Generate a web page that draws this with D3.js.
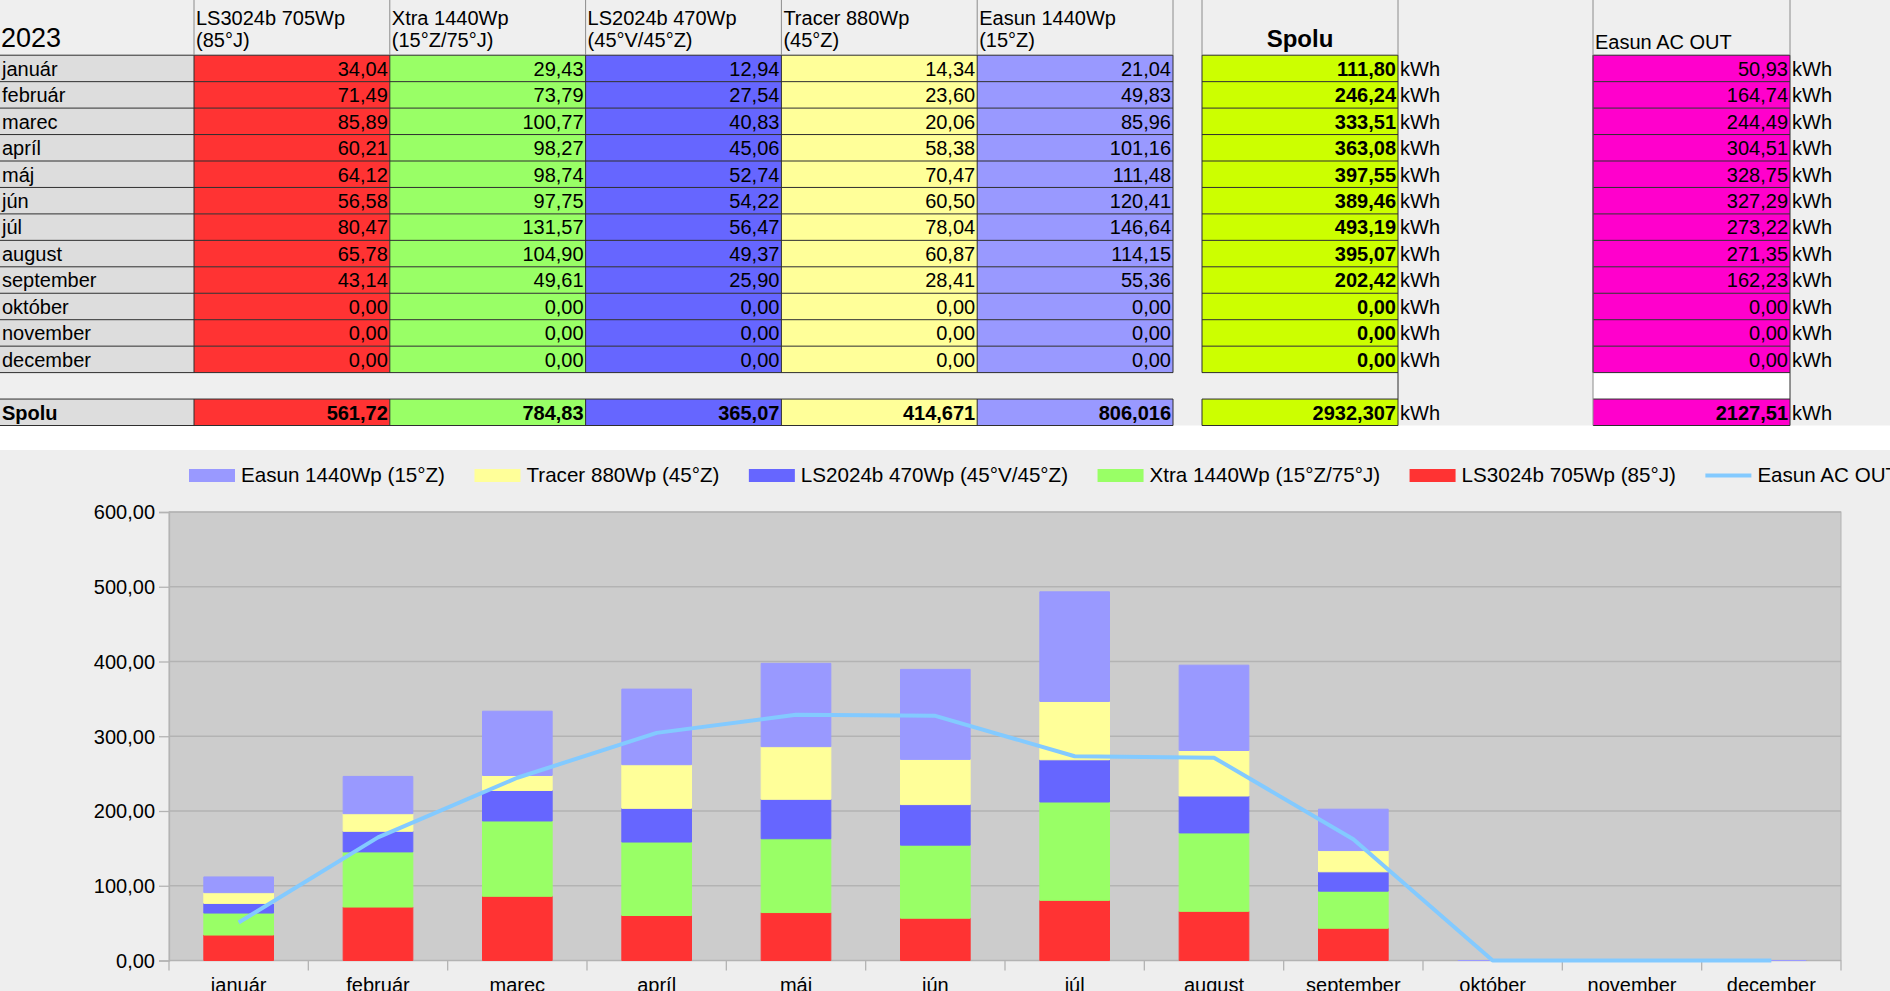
<!DOCTYPE html>
<html>
<head>
<meta charset="utf-8">
<script src="https://cdn.jsdelivr.net/npm/d3@7"></script>
<style>
    html, body { margin: 0; padding: 0; background: #efefef; overflow: hidden; }
    svg { display: block; font-family: "Liberation Sans", Arial, sans-serif; }
</style>
</head>
<body>
<svg id="sheet" width="1890" height="991"></svg>
<script>
// ---- data ----
var year = '2023';
var months = [ 'január', 'február', 'marec', 'apríl', 'máj', 'jún', 'júl', 'august', 'september', 'október', 'november', 'december' ];
var seriesNames = [ 'LS3024b 705Wp', 'Xtra 1440Wp', 'LS2024b 470Wp', 'Tracer 880Wp', 'Easun 1440Wp' ];
var seriesAngles = [ '(85°J)', '(15°Z/75°J)', '(45°V/45°Z)', '(45°Z)', '(15°Z)' ];
var ls3024b = [ 34.04, 71.49, 85.89, 60.21, 64.12, 56.58, 80.47, 65.78, 43.14, 0, 0, 0 ];
var xtra = [ 29.43, 73.79, 100.77, 98.27, 98.74, 97.75, 131.57, 104.90, 49.61, 0, 0, 0 ];
var ls2024b = [ 12.94, 27.54, 40.83, 45.06, 52.74, 54.22, 56.47, 49.37, 25.90, 0, 0, 0 ];
var tracer = [ 14.34, 23.60, 20.06, 58.38, 70.47, 60.50, 78.04, 60.87, 28.41, 0, 0, 0 ];
var easun = [ 21.04, 49.83, 85.96, 101.16, 111.48, 120.41, 146.64, 114.15, 55.36, 0, 0, 0 ];
var spolu = [ 111.80, 246.24, 333.51, 363.08, 397.55, 389.46, 493.19, 395.07, 202.42, 0, 0, 0 ];
var acOut = [ 50.93, 164.74, 244.49, 304.51, 328.75, 327.29, 273.22, 271.35, 162.23, 0, 0, 0 ];
var seriesTotals = [ '561,72', '784,83', '365,07', '414,671', '806,016' ];
var spoluTotal = '2932,307';
var acOutTotal = '2127,51';
var sumLabel = 'Spolu';
var unit = 'kWh';
var acOutName = 'Easun AC OUT';
var yTicks = [ 0, 100, 200, 300, 400, 500, 600 ];

var SolarSheet = SolarSheet || {};

SolarSheet.colors = [ '#ff3333', '#99ff66', '#6666ff', '#ffff99', '#9999ff' ];
SolarSheet.spoluColor = '#ccff00';
SolarSheet.acOutColor = '#ff00cc';
SolarSheet.lineColor = '#83caff';
SolarSheet.fmt = d3.formatLocale( { decimal: ',', thousands: '', grouping: [ 3 ], currency: [ '', '' ] } ).format( '.2f' );

SolarSheet.table = function ( svg ) {
    var _rowTop = 55.2,
        _rowH = 26.45,
        _border = '#2e2e2e',
        _soft = '#8c8c8c',
        _values = [ ls3024b, xtra, ls2024b, tracer, easun ],
        _rowY = d3.scaleBand().domain( months ).range( [ _rowTop, _rowTop + _rowH * months.length ] ),
        _colX = d3.scaleBand().domain( seriesNames ).range( [ 194, 1173 ] ),
        _sumTop = _rowY.range()[ 1 ] + _rowH,
        _sumBottom = _sumTop + _rowH,
        _spoluX = [ 1202, 1398 ],
        _acX = [ 1593, 1790 ],
        _g = svg.append( 'g' ).attr( 'class', 'table' );

    var hline = function ( y, x0, x1, col ) {
        _g.append( 'line' ).attr( 'x1', x0 ).attr( 'x2', x1 ).attr( 'y1', y ).attr( 'y2', y )
            .attr( 'stroke', col || _border ).attr( 'stroke-width', 1 );
    };
    var vline = function ( x, y0, y1, col ) {
        _g.append( 'line' ).attr( 'x1', x ).attr( 'x2', x ).attr( 'y1', y0 ).attr( 'y2', y1 )
            .attr( 'stroke', col || _border ).attr( 'stroke-width', 1 );
    };
    var text = function ( str, x, y, anchor, opts ) {
        opts = opts || {};
        return _g.append( 'text' ).attr( 'x', x ).attr( 'y', y )
            .attr( 'text-anchor', anchor || 'start' )
            .attr( 'font-size', opts.size || 20 )
            .attr( 'font-weight', opts.bold ? 'bold' : 'normal' )
            .attr( 'fill', '#000' )
            .text( str );
    };

    // blank AC OUT cell in the gap row is white
    _g.append( 'rect' ).attr( 'x', _acX[ 0 ] ).attr( 'y', _rowY.range()[ 1 ] )
        .attr( 'width', _acX[ 1 ] - _acX[ 0 ] ).attr( 'height', _rowH ).attr( 'fill', '#fff' );

    // label column
    _g.selectAll( 'rect.lab' ).data( months.concat( [ sumLabel ] ) ).enter().append( 'rect' )
        .attr( 'class', 'lab' )
        .attr( 'x', 0 ).attr( 'width', 194 )
        .attr( 'y', function ( d, i ) { return i < months.length ? _rowY( d ) : _sumTop; } )
        .attr( 'height', _rowH )
        .attr( 'fill', '#dddddd' );

    // coloured series cells
    seriesNames.forEach( function ( name, s ) {
        _g.selectAll( null ).data( _values[ s ].concat( [ null ] ) ).enter().append( 'rect' )
            .attr( 'x', _colX( name ) ).attr( 'width', _colX.bandwidth() )
            .attr( 'y', function ( d, i ) { return i < months.length ? _rowY( months[ i ] ) : _sumTop; } )
            .attr( 'height', _rowH )
            .attr( 'fill', SolarSheet.colors[ s ] );
    } );
    [ [ _spoluX, SolarSheet.spoluColor ], [ _acX, SolarSheet.acOutColor ] ].forEach( function ( c ) {
        _g.selectAll( null ).data( months.concat( [ sumLabel ] ) ).enter().append( 'rect' )
            .attr( 'x', c[ 0 ][ 0 ] ).attr( 'width', c[ 0 ][ 1 ] - c[ 0 ][ 0 ] )
            .attr( 'y', function ( d, i ) { return i < months.length ? _rowY( d ) : _sumTop; } )
            .attr( 'height', _rowH )
            .attr( 'fill', c[ 1 ] );
    } );

    // grid lines
    d3.range( months.length + 1 ).forEach( function ( i ) {
        var y = _rowTop + i * _rowH;
        hline( y, 0, 1173 );
        hline( y, _spoluX[ 0 ], _spoluX[ 1 ] );
        hline( y, _acX[ 0 ], _acX[ 1 ] );
    } );
    [ _sumTop, _sumBottom ].forEach( function ( y ) {
        hline( y, 0, 1173 );
        hline( y, _spoluX[ 0 ], _spoluX[ 1 ] );
        hline( y, _acX[ 0 ], _acX[ 1 ] );
    } );
    seriesNames.forEach( function ( name ) {
        vline( _colX( name ), 0, _rowTop, _soft );
        vline( _colX( name ), _rowTop, _rowY.range()[ 1 ] );
        vline( _colX( name ), _sumTop, _sumBottom );
    } );
    vline( 1173, 0, _rowTop, _soft );
    vline( 1173, _rowTop, _rowY.range()[ 1 ] );
    vline( 1173, _sumTop, _sumBottom );
    vline( _spoluX[ 0 ], 0, _rowTop, _soft );
    vline( _spoluX[ 0 ], _rowTop, _rowY.range()[ 1 ] );
    vline( _spoluX[ 0 ], _sumTop, _sumBottom );
    vline( _spoluX[ 1 ], 0, _rowTop, _soft );
    vline( _spoluX[ 1 ], _rowTop, _sumBottom );
    vline( _acX[ 0 ], 0, _sumBottom, _soft );
    vline( _acX[ 0 ], _rowTop, _rowY.range()[ 1 ] );
    vline( _acX[ 1 ], 0, _rowTop, _soft );
    vline( _acX[ 1 ], _rowTop, _sumBottom );

    // header texts
    text( year, 1, 47, 'start', { size: 27 } );
    seriesNames.forEach( function ( name, s ) {
        text( name, _colX( name ) + 2, 24.5 );
        text( seriesAngles[ s ], _colX( name ) + 2, 47 );
    } );
    text( sumLabel, ( _spoluX[ 0 ] + _spoluX[ 1 ] ) / 2, 47, 'middle', { size: 24, bold: true } );
    text( acOutName, _acX[ 0 ] + 2, 48.5 );

    // body texts
    months.forEach( function ( m, i ) {
        var base = _rowY( m ) + 20.5;
        text( m, 2, base );
        seriesNames.forEach( function ( name, s ) {
            text( SolarSheet.fmt( _values[ s ][ i ] ), _colX( name ) + _colX.bandwidth() - 2, base, 'end' );
        } );
        text( SolarSheet.fmt( spolu[ i ] ), _spoluX[ 1 ] - 2, base, 'end', { bold: true } );
        text( unit, _spoluX[ 1 ] + 2, base );
        text( SolarSheet.fmt( acOut[ i ] ), _acX[ 1 ] - 2, base, 'end' );
        text( unit, _acX[ 1 ] + 2, base );
    } );

    var sumBase = _sumTop + 20.5;
    text( sumLabel, 2, sumBase, 'start', { bold: true } );
    seriesNames.forEach( function ( name, s ) {
        text( seriesTotals[ s ], _colX( name ) + _colX.bandwidth() - 2, sumBase, 'end', { bold: true } );
    } );
    text( spoluTotal, _spoluX[ 1 ] - 2, sumBase, 'end', { bold: true } );
    text( unit, _spoluX[ 1 ] + 2, sumBase );
    text( acOutTotal, _acX[ 1 ] - 2, sumBase, 'end', { bold: true } );
    text( unit, _acX[ 1 ] + 2, sumBase );
};

SolarSheet.chart = function ( svg ) {
    var _plot = { left: 169, right: 1841, top: 512, bottom: 960.5 },
        _grid = '#b3b3b3',
        _values = [ ls3024b, xtra, ls2024b, tracer, easun ],
        _g = svg.append( 'g' ).attr( 'class', 'chart' ),
        _rows = months.map( function ( m, i ) {
            var r = { month: m };
            seriesNames.forEach( function ( name, s ) { r[ name ] = _values[ s ][ i ]; } );
            return r;
        } ),
        _x = d3.scaleBand().domain( months ).range( [ _plot.left, _plot.right ] ),
        _y = d3.scaleLinear().domain( [ 0, 600 ] ).range( [ _plot.bottom, _plot.top ] ),
        _stack = d3.stack().keys( seriesNames )( _rows ),
        _barW = _x.bandwidth() * 0.5;

    _g.append( 'rect' ).attr( 'x', 0 ).attr( 'y', 450 ).attr( 'width', 1890 ).attr( 'height', 541 ).attr( 'fill', '#eeeeee' );
    _g.append( 'rect' )
        .attr( 'x', _plot.left ).attr( 'y', _plot.top )
        .attr( 'width', _plot.right - _plot.left ).attr( 'height', _plot.bottom - _plot.top )
        .attr( 'fill', '#cccccc' ).attr( 'stroke', _grid ).attr( 'stroke-width', 1 );

    _g.append( 'g' ).selectAll( 'line' ).data( yTicks ).enter().append( 'line' )
        .attr( 'x1', _plot.left ).attr( 'x2', _plot.right )
        .attr( 'y1', function ( d ) { return _y( d ); } ).attr( 'y2', function ( d ) { return _y( d ); } )
        .attr( 'stroke', _grid ).attr( 'stroke-width', 1.3 );

    // y axis
    var yAxis = _g.append( 'g' )
        .attr( 'transform', 'translate(' + _plot.left + ',0)' )
        .call( d3.axisLeft( _y ).tickValues( yTicks ).tickSize( 10 ).tickPadding( 4 ).tickFormat( SolarSheet.fmt ) );
    yAxis.select( '.domain' ).attr( 'stroke', _grid ).attr( 'stroke-width', 1.3 );
    yAxis.selectAll( '.tick line' ).attr( 'stroke', _grid ).attr( 'stroke-width', 1.3 );
    yAxis.selectAll( 'text' ).attr( 'font-size', 20 ).attr( 'font-family', null ).attr( 'fill', '#000' ).attr( 'dy', '0.34em' );

    // x axis: labels at centres, ticks at band edges
    var xAxis = _g.append( 'g' )
        .attr( 'transform', 'translate(0,' + _plot.bottom + ')' )
        .call( d3.axisBottom( _x ).tickSize( 0 ) );
    xAxis.select( '.domain' ).remove();
    xAxis.selectAll( 'text' ).attr( 'font-size', 20 ).attr( 'font-family', null ).attr( 'fill', '#000' )
        .attr( 'y', 31.5 ).attr( 'dy', 0 );
    _g.append( 'g' ).selectAll( 'line' ).data( months.concat( [ null ] ) ).enter().append( 'line' )
        .attr( 'x1', function ( d ) { return d ? _x( d ) : _plot.right; } )
        .attr( 'x2', function ( d ) { return d ? _x( d ) : _plot.right; } )
        .attr( 'y1', _plot.bottom ).attr( 'y2', _plot.bottom + 10 )
        .attr( 'stroke', _grid ).attr( 'stroke-width', 1.3 );

    // stacked bars (paths so zero-height bars still show their border)
    _g.append( 'g' ).selectAll( 'g' ).data( _stack ).enter().append( 'g' )
        .attr( 'fill', function ( d, i ) { return SolarSheet.colors[ i ]; } )
        .attr( 'stroke', function ( d, i ) { return SolarSheet.colors[ i ]; } )
        .selectAll( 'path' ).data( function ( d ) { return d; } ).enter().append( 'path' )
        .attr( 'stroke-width', 1 )
        .attr( 'd', function ( d ) {
            var x0 = _x( d.data.month ) + ( _x.bandwidth() - _barW ) / 2,
                y0 = _y( d[ 0 ] ),
                y1 = _y( d[ 1 ] );
            return 'M' + x0 + ',' + y0 + 'H' + ( x0 + _barW ) + 'V' + y1 + 'H' + x0 + 'Z';
        } );

    // AC OUT line
    _g.append( 'path' )
        .datum( acOut )
        .attr( 'fill', 'none' )
        .attr( 'stroke', SolarSheet.lineColor )
        .attr( 'stroke-width', 4 )
        .attr( 'stroke-linejoin', 'round' )
        .attr( 'd', d3.line()
            .x( function ( d, i ) { return _x( months[ i ] ) + _x.bandwidth() / 2; } )
            .y( function ( d ) { return _y( d ); } ) );

    // legend: reversed stack order, then the line
    var legendItems = seriesNames.map( function ( name, s ) {
        return { label: name + ' ' + seriesAngles[ s ], color: SolarSheet.colors[ s ], line: false };
    } ).reverse();
    legendItems.push( { label: acOutName, color: SolarSheet.lineColor, line: true } );

    var lx = 189;
    legendItems.forEach( function ( item ) {
        if ( item.line ) {
            _g.append( 'line' ).attr( 'x1', lx ).attr( 'x2', lx + 46 ).attr( 'y1', 475.5 ).attr( 'y2', 475.5 )
                .attr( 'stroke', item.color ).attr( 'stroke-width', 4 );
        } else {
            _g.append( 'rect' ).attr( 'x', lx ).attr( 'y', 469 ).attr( 'width', 46 ).attr( 'height', 13 )
                .attr( 'fill', item.color );
        }
        var t = _g.append( 'text' ).attr( 'x', lx + 52 ).attr( 'y', 482 )
            .attr( 'font-size', 20.6 ).attr( 'fill', '#000' ).text( item.label );
        lx += 52 + t.node().getComputedTextLength() + 29.5;
    } );
};

var svg = d3.select( '#sheet' );
svg.append( 'rect' ).attr( 'width', 1890 ).attr( 'height', 991 ).attr( 'fill', '#efefef' );
svg.append( 'rect' ).attr( 'x', 0 ).attr( 'y', 425.5 ).attr( 'width', 1890 ).attr( 'height', 24.5 ).attr( 'fill', '#ffffff' );
SolarSheet.table( svg );
SolarSheet.chart( svg );
</script>
</body>
</html>
